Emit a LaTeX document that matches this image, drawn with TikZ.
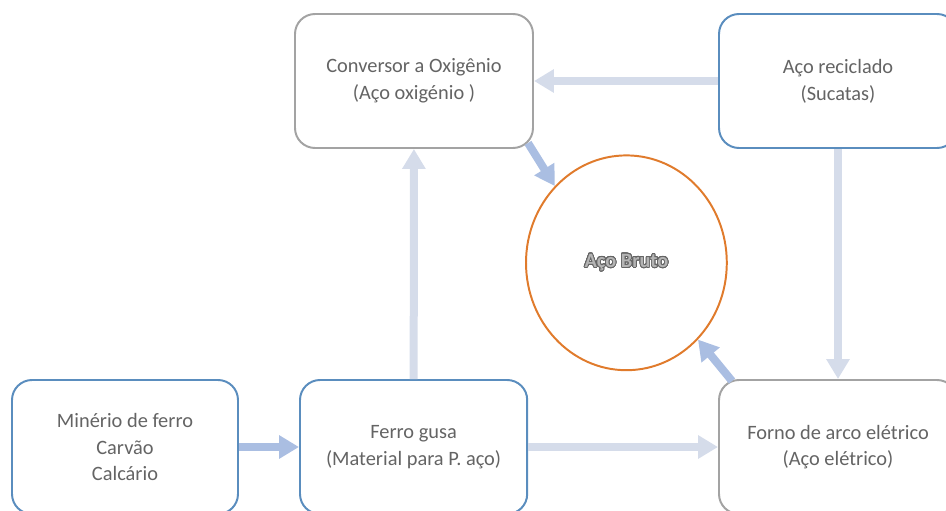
\documentclass[tikz,border=0pt]{standalone}
\usepackage{fontspec}
\setmainfont{Carlito}
\usepackage{contour}
\usetikzlibrary{positioning,arrows.meta,shapes.geometric,calc}
\definecolor{fxblue}{HTML}{5A8DBE}
\definecolor{fxgray}{HTML}{A3A3A3}
\definecolor{fxorange}{HTML}{E07B2C}
\definecolor{fxtext}{HTML}{646464}
\definecolor{fxarrow}{HTML}{AABEE2}
\definecolor{fxarrowL}{HTML}{D5DCEA}
\definecolor{fxbrutoL}{HTML}{B4B4B4}

\begin{document}
\begin{tikzpicture}[
      font=\fontsize{14.5}{19}\selectfont,
      proc/.style={draw=fxblue, line width=1.4pt, rounded corners=0.5cm,
                   minimum width=5.95cm, minimum height=3.35cm,
                   align=center, text=fxtext, fill=white},
      furnace/.style={proc, draw=fxgray},
      bruto/.style={ellipse, draw=fxorange, line width=1.4pt,
                    minimum width=5.02cm, minimum height=5.37cm, inner sep=0pt},
      flow/.style={-{Triangle[length=0.5cm,width=0.56cm]}, line width=0.2cm, draw=fxarrow},
      flowL/.style={flow, draw=fxarrowL}
    ]
    \useasboundingbox (0,0) rectangle (23.65,12.75);
    % ------------- boxes -------------
    \node[furnace] (conv) at (10.35,10.725) {Conversor a Oxigênio\\(Aço oxigénio )};
    \node[proc] (recic) at (20.95,10.725) {Aço reciclado\\(Sucatas)};
    \node[proc, minimum width=5.65cm] (minerio) at (3.125,1.575) {Minério de ferro\\Carvão\\Calcário};
    \node[proc, minimum width=5.68cm] (gusa) at (10.34,1.575) {Ferro gusa\\(Material para P. aço)};
    \node[furnace] (forno) at (20.95,1.575) {Forno de arco elétrico\\(Aço elétrico)};
    % ------------- crude steel -------------
    \contourlength{0.55pt}
    \node[bruto] (aco) at (15.66,6.18)
      {\bfseries\contour[32]{fxtext}{\textcolor{fxbrutoL}{Aço Bruto}}};
    % ------------- flows -------------
    \draw[flow] (minerio) -- (gusa);
    \draw[flowL] (gusa) -- (forno);
    \draw[flowL] (gusa) -- (conv);
    \draw[flowL] (recic) -- (conv);
    \draw[flowL] (recic) -- (forno);
    \draw[flow] ($(conv.south east)+(-0.15,0.15)$) -- (aco.133);
    \draw[flow] ($(forno.north west)+(0.35,-0.05)$) -- (aco.-47);
  \end{tikzpicture}
\end{document}
